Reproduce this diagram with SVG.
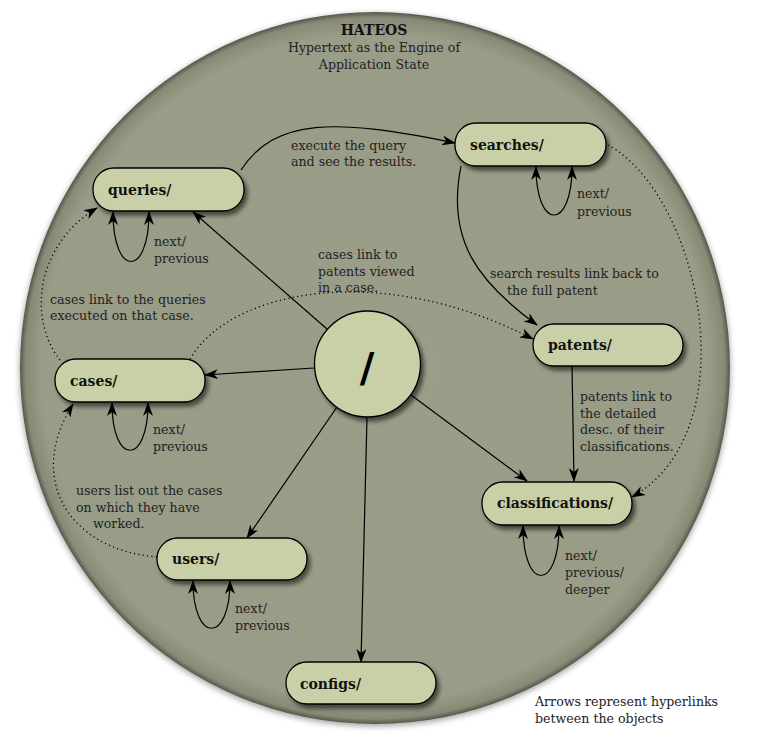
<svg xmlns="http://www.w3.org/2000/svg" width="781" height="754" viewBox="0 0 781 754">
<style>
.node rect{fill:#c9d0a7;stroke:#000;stroke-width:1.3;filter:url(#sh)}
.lbl{font-family:"DejaVu Serif",serif;font-weight:bold;font-size:14px;fill:#111}
.t{font-family:"DejaVu Serif",serif;font-size:12.6px;fill:#222}
.c path,.c line{fill:none;stroke:#000;stroke-width:1.2}
.c .a{marker-end:url(#ah)}
.c .d{stroke-dasharray:1.2 3.2;stroke-width:1.3}
.c .loop{marker-start:url(#ahs);marker-end:url(#ah)}
</style>
<defs>
<radialGradient id="bg" cx="0.5" cy="0.5" r="0.5">
<stop offset="0" stop-color="#9a9d88"/>
<stop offset="0.94" stop-color="#999c87"/>
<stop offset="0.985" stop-color="#888a76"/>
<stop offset="1" stop-color="#55574a"/>
</radialGradient>
<filter id="sh" x="-20%" y="-20%" width="150%" height="160%">
<feGaussianBlur in="SourceAlpha" stdDeviation="2.2"/>
<feOffset dx="3" dy="4" result="o"/>
<feComponentTransfer><feFuncA type="linear" slope="0.55"/></feComponentTransfer>
<feMerge><feMergeNode/><feMergeNode in="SourceGraphic"/></feMerge>
</filter>
<filter id="bsh" x="-5%" y="-5%" width="110%" height="110%">
<feGaussianBlur in="SourceAlpha" stdDeviation="3"/>
<feOffset dx="0" dy="2"/>
<feComponentTransfer><feFuncA type="linear" slope="0.4"/></feComponentTransfer>
<feMerge><feMergeNode/><feMergeNode in="SourceGraphic"/></feMerge>
</filter>
<marker id="ah" markerWidth="14" markerHeight="10" refX="13" refY="5" orient="auto" markerUnits="userSpaceOnUse">
<path d="M0,0 L14,5 L0,10 L4,5 z" fill="#000"/>
</marker>
<marker id="ahs" markerWidth="14" markerHeight="10" refX="13" refY="5" orient="auto-start-reverse" markerUnits="userSpaceOnUse">
<path d="M0,0 L14,5 L0,10 L4,5 z" fill="#000"/>
</marker>
</defs>
<rect width="781" height="754" fill="#fff"/>
<ellipse cx="375" cy="368" rx="355" ry="356" fill="url(#bg)" filter="url(#bsh)"/>
<g id="title" text-anchor="middle">
<text x="374" y="35" class="lbl" font-size="15">HATEOS</text>
<text x="374" y="52" class="t">Hypertext as the Engine of</text>
<text x="374" y="69" class="t">Application State</text>
</g>
<g class="c" id="connectors">
<line class="a" x1="327" y1="329" x2="193" y2="212"/>
<line class="a" x1="314" y1="368" x2="205" y2="375"/>
<line class="a" x1="337" y1="407" x2="247" y2="538"/>
<line class="a" x1="367" y1="417" x2="361" y2="662"/>
<line class="a" x1="411" y1="395" x2="527" y2="481"/>
<line class="a" x1="572" y1="366" x2="574" y2="481"/>
<path class="a" d="M241,170 C275,118 335,118 455,143"/>
<path class="a" d="M461,166 C446,240 478,282 537,325"/>
<path class="a d" d="M190,359 C230,290 380,260 533,339"/>
<path class="a d" d="M60,360 C28,320 35,245 97,208"/>
<path class="a d" d="M157,557 C70,550 25,480 73,404"/>
<path class="a d" d="M608,145 C700,195 750,430 632,497"/>
<path class="loop" d="M113,212 C113,278 149,278 149,212"/>
<path class="loop" d="M536,167 C536,231 572,231 572,167"/>
<path class="loop" d="M112,403 C112,466 148,466 148,403"/>
<path class="loop" d="M523,526 C523,592 559,592 559,526"/>
<path class="loop" d="M193,581 C193,644 230,644 230,581"/>
</g>
<g id="root">
<circle cx="367.5" cy="364" r="53" fill="#c9d0a7" stroke="#000" stroke-width="1.3" filter="url(#sh)"/>
<text x="367" y="382" text-anchor="middle" font-family="DejaVu Sans,sans-serif" font-weight="bold" font-size="40" fill="#000">/</text>
</g>
<g id="queries" class="node"><rect x="93" y="168" width="151" height="43" rx="21"/><text x="108" y="195" class="lbl">queries/</text></g>
<g id="searches" class="node"><rect x="455" y="123" width="151" height="43" rx="21"/><text x="470" y="150" class="lbl">searches/</text></g>
<g id="patents" class="node"><rect x="533" y="324" width="150" height="42" rx="21"/><text x="548" y="350" class="lbl">patents/</text></g>
<g id="cases" class="node"><rect x="55" y="359" width="150" height="43" rx="21"/><text x="70" y="386" class="lbl">cases/</text></g>
<g id="classifications" class="node"><rect x="482" y="482" width="150" height="43" rx="21"/><text x="497" y="508" class="lbl">classifications/</text></g>
<g id="users" class="node"><rect x="157" y="538" width="150" height="42" rx="21"/><text x="172" y="564" class="lbl">users/</text></g>
<g id="configs" class="node"><rect x="286" y="662" width="150" height="42" rx="21"/><text x="300" y="689" class="lbl">configs/</text></g>
<g id="labels" class="t">
<text x="154" y="246">next/</text><text x="154" y="263">previous</text>
<text x="577" y="198">next/</text><text x="577" y="216">previous</text>
<text x="153" y="434">next/</text><text x="153" y="451">previous</text>
<text x="565" y="560">next/</text><text x="565" y="577">previous/</text><text x="565" y="594">deeper</text>
<text x="235" y="613">next/</text><text x="235" y="630">previous</text>
<text x="291" y="150">execute the query</text><text x="291" y="166">and see the results.</text>
<text x="318" y="259">cases link to</text><text x="318" y="276">patents viewed</text><text x="318" y="292">in a case.</text>
<text x="50" y="304">cases link to the queries</text><text x="50" y="320">executed on that case.</text>
<text x="490" y="278">search results link back to</text><text x="507" y="295">the full patent</text>
<text x="580" y="401">patents link to</text><text x="580" y="418">the detailed</text><text x="580" y="434">desc. of their</text><text x="580" y="451">classifications.</text>
<text x="76" y="495">users list out the cases</text><text x="76" y="512">on which they have</text><text x="93" y="528">worked.</text>
<text x="535" y="706">Arrows represent hyperlinks</text><text x="535" y="723">between the objects</text>
</g>
</svg>
